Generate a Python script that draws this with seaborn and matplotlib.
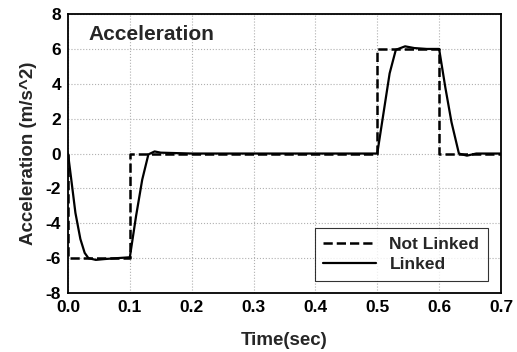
import matplotlib
matplotlib.use("Agg")
import matplotlib.pyplot as plt
import seaborn as sns
import pandas as pd

# Not Linked (ideal step profile)
t_not = [0.0, 0.0, 0.1, 0.1, 0.5, 0.5, 0.6, 0.6, 0.7]
a_not = [0.0, -6.0, -6.0, 0.0, 0.0, 6.0, 6.0, 0.0, 0.0]

# Linked (smoothed response)
t_lnk = [0.0, 0.005, 0.012, 0.02, 0.027, 0.033, 0.045, 0.06, 0.08, 0.1, 0.11, 0.12, 0.13, 0.14, 0.15,
         0.2, 0.3, 0.4, 0.5, 0.51, 0.52, 0.53, 0.545, 0.56, 0.58, 0.6, 0.61, 0.62, 0.632, 0.645, 0.66, 0.7]
a_lnk = [0.0, -1.4, -3.4, -4.9, -5.7, -6.0, -6.1, -6.05, -6.0, -5.95, -3.6, -1.5, -0.05, 0.12, 0.05,
         0.0, 0.0, 0.0, 0.0, 2.3, 4.6, 5.95, 6.15, 6.05, 6.0, 6.0, 3.8, 1.8, 0.0, -0.12, 0.0, 0.0]

sns.set_theme(style="white")
plt.rcParams['font.family'] = ['Liberation Sans', 'DejaVu Sans']
plt.rcParams['font.weight'] = 'bold'
plt.rcParams['axes.unicode_minus'] = False

df_not = pd.DataFrame({"t": t_not, "a": a_not})
df_lnk = pd.DataFrame({"t": t_lnk, "a": a_lnk})

fig = plt.figure(figsize=(5.17, 3.52), dpi=100)
ax = fig.add_axes([0.1315, 0.1676, 0.8375, 0.7924])

sns.lineplot(data=df_not, x="t", y="a", ax=ax, color="black", linestyle="--",
             linewidth=1.8, label="Not Linked", sort=False, estimator=None)
sns.lineplot(data=df_lnk, x="t", y="a", ax=ax, color="black", linestyle="-",
             linewidth=1.6, label="Linked", sort=False, estimator=None)

ax.set_xlim(0, 0.7)
ax.set_ylim(-8, 8)
ax.set_xticks([0.0, 0.1, 0.2, 0.3, 0.4, 0.5, 0.6, 0.7])
ax.set_xticklabels(["0.0", "0.1", "0.2", "0.3", "0.4", "0.5", "0.6", "0.7"])
ax.set_yticks([-8, -6, -4, -2, 0, 2, 4, 6, 8])
ax.tick_params(direction="in", length=3, labelsize=12.5, colors="black", width=1, pad=5)
for lbl in ax.get_xticklabels() + ax.get_yticklabels():
    lbl.set_fontweight("bold")
ax.grid(True, linestyle=":", color="#b0b0b0", linewidth=0.8)
for s in ax.spines.values():
    s.set_color("black")
    s.set_linewidth(1.3)

ax.set_xlabel("Time(sec)", fontsize=13.5, fontweight="bold", labelpad=12)
ax.set_ylabel("Acceleration (m/s^2)", fontsize=13.5, fontweight="bold", labelpad=6)

ax.text(0.048, 0.96, "Acceleration", transform=ax.transAxes, fontsize=15,
        fontweight="bold", va="top", ha="left")

leg = ax.legend(loc="lower right", fontsize=12.5, frameon=True, fancybox=False,
                edgecolor="black", borderpad=0.5, handlelength=3.0, labelspacing=0.3,
                bbox_to_anchor=(0.99, 0.012))
leg.get_frame().set_linewidth(0.8)
for t in leg.get_texts():
    t.set_fontweight("bold")

fig.savefig("out.png", dpi=100)
